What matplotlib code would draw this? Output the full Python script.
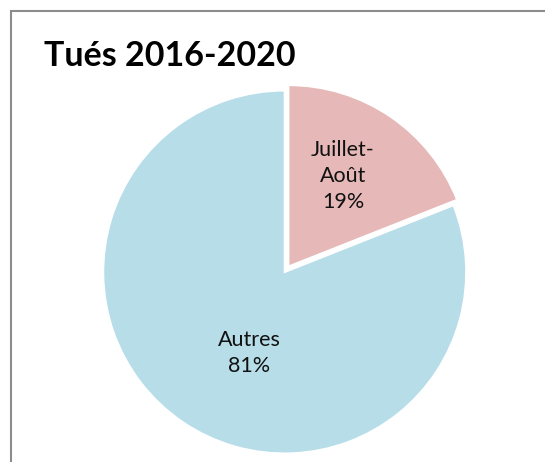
import matplotlib
matplotlib.use("Agg")
import matplotlib.pyplot as plt
from matplotlib.patches import Rectangle
import numpy as np

labels = ["Juillet-\nAoût", "Autres"]
values = [19, 81]
colors = ["#E6B9B8", "#B7DDE8"]
title = "Tués 2016-2020"

W, H = 545, 462
fig = plt.figure(figsize=(W / 100, H / 100), dpi=100)
fig.patch.set_facecolor("white")

# chart border (extends beyond right/bottom edge)
fig.patches.append(Rectangle((11 / W, -0.05), 1.1, (H - 11) / H + 0.05,
                             transform=fig.transFigure, fill=False,
                             edgecolor="#8c8c8c", linewidth=1.5))

ax = fig.add_axes([0, 0, 1, 1])

center = (284.7, H - 272)
radius = 181.5
explode_frac = [0.036, 0]
wedges, texts = ax.pie(values, colors=colors, startangle=90, counterclock=False,
                       center=center, radius=radius,
                       explode=[e * radius for e in explode_frac],
                       wedgeprops=dict(edgecolor="white", linewidth=1.5))
ax.set_xlim(0, W)
ax.set_ylim(0, H)
ax.set_aspect("equal")
ax.axis("off")

dists = [0.583, 0.488]
angle_shift = [3.1, 10.4]
for w, lab, v, d, sh in zip(wedges, labels, values, dists, angle_shift):
    ang = np.deg2rad((w.theta1 + w.theta2) / 2 + sh)
    cx, cy = w.center
    ax.text(cx + d * w.r * np.cos(ang), cy + d * w.r * np.sin(ang),
            f"{lab}\n{v}%", ha="center", va="center", fontsize=15.5,
            family=["Lato", "DejaVu Sans"], linespacing=1.35, color="#111111")

fig.text(44 / W, 1 - 55.5 / H, title, ha="left", va="center", fontsize=24.5,
         fontweight="bold", family=["Lato", "DejaVu Sans"], color="black")

fig.savefig("out.png", dpi=100, facecolor="white")
